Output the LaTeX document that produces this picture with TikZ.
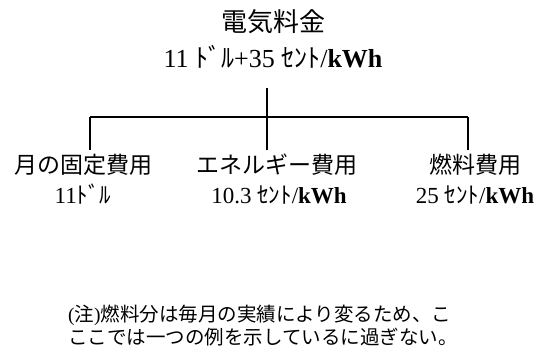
\documentclass[tikz,border=0pt]{standalone}
\usepackage{fontspec}
\setmainfont{Liberation Serif}
\newfontfamily\jp{Noto Sans CJK JP}
\usetikzlibrary{positioning}

\begin{document}
\begin{tikzpicture}[x=1pt,y=-1pt,inner sep=0pt,
  branch/.style={line width=1.5pt},
  head/.style={anchor=base,font=\fontsize{26}{30}\selectfont},
  part/.style={anchor=base,font=\fontsize{23}{27}\selectfont}]
\useasboundingbox (0,0) rectangle (544,354);
% total price
\node[head] (title) at (273,31) {\jp 電気料金};
\node[head] (total) at (273,67) {11 {\jp ﾄﾞﾙ}+35 {\jp ｾﾝﾄ}/\textbf{kWh}};
% branches
\coordinate (hub) at (267,117);
\coordinate (l) at (90,117);
\coordinate (r) at (468,117);
\coordinate (ltop) at (90,150);
\coordinate (mtop) at (267,150);
\coordinate (rtop) at (468,150);
% parts
\node[part] (fix) at (84,173) {\jp 月の固定費用};
\node[part] (fixv) at (83,203) {11{\jp ﾄﾞﾙ}};
\node[part] (eng) at (277,173) {\jp エネルギー費用};
\node[part] (engv) at (279,203) {10.3 {\jp ｾﾝﾄ}/\textbf{kWh}};
\node[part] (fuel) at (475,173) {\jp 燃料費用};
\node[part] (fuelv) at (475,203) {25 {\jp ｾﾝﾄ}/\textbf{kWh}};
\draw[branch] (267,88) -- (hub);
\draw[branch] (l) -- (r);
\draw[branch] (l) -- (ltop);
\draw[branch] (hub) -- (mtop);
\draw[branch] (r) -- (rtop);
% note
\node[anchor=west,align=left,font=\fontsize{19.5}{23}\selectfont] (note) at (68,326)
  {({\jp 注}){\jp 燃料分は毎月の実績により変るため、こ}\\{\jp ここでは一つの例を示しているに過ぎない。}};
\end{tikzpicture}
\end{document}
